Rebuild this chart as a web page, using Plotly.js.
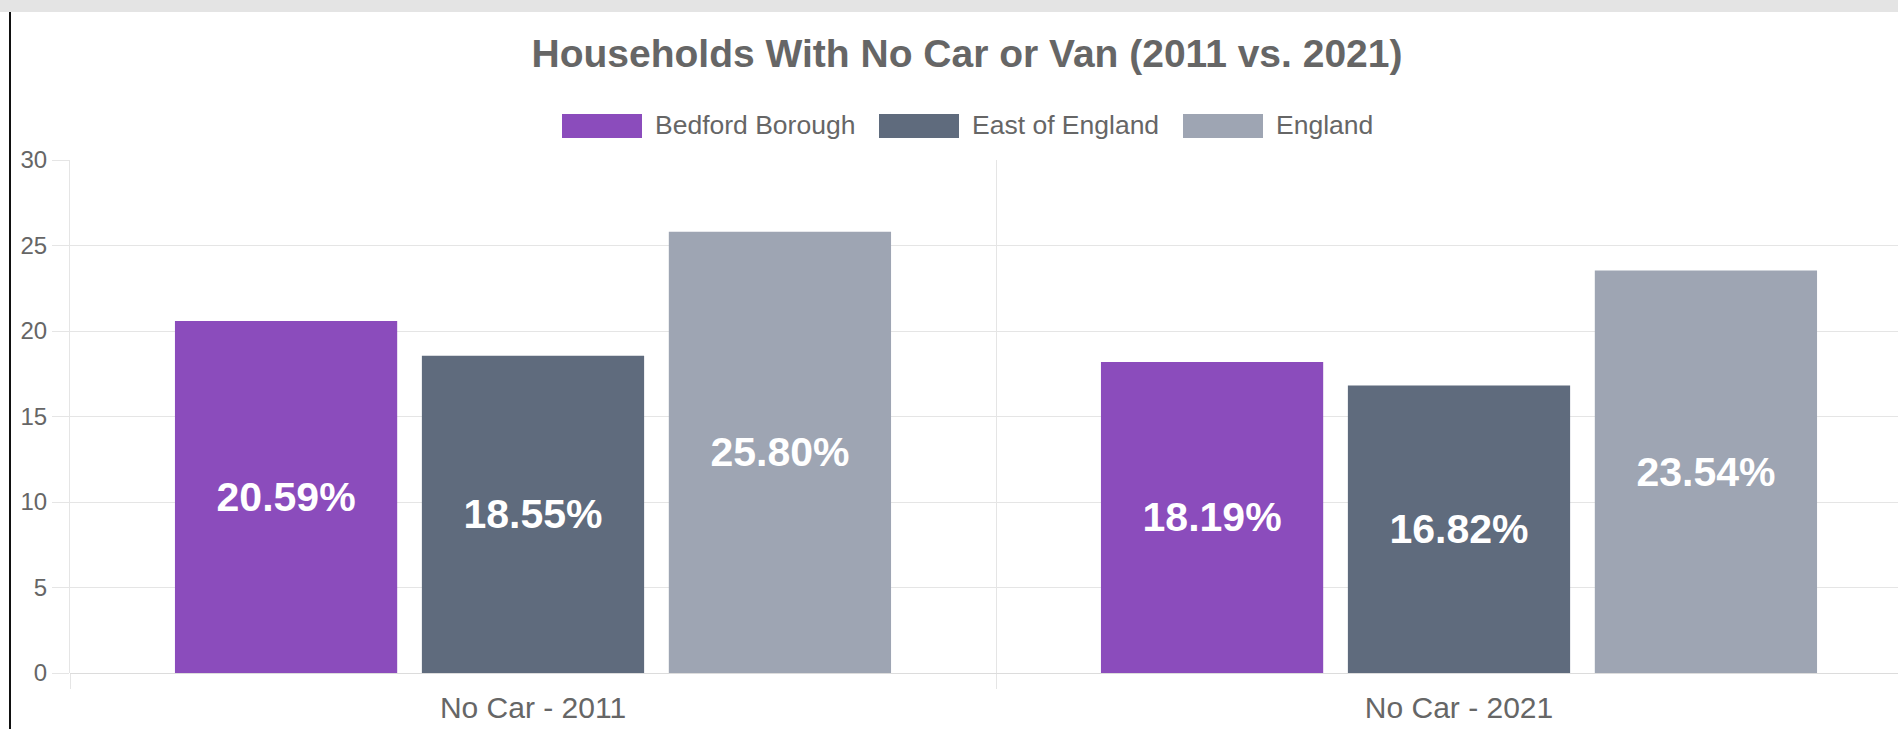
<!DOCTYPE html>
<html>
<head>
<meta charset="utf-8">
<script src="https://cdn.plot.ly/plotly-3.0.1.min.js"></script>
<style>
  html, body { margin: 0; padding: 0; overflow: hidden; background: #fff; width: 1898px; height: 729px; }
  #chart { position: absolute; left: 0; top: 0; }
  #band { position: absolute; left: 0; top: 0; width: 1898px; height: 12px; background: #e4e4e4; z-index: 5; }
  #edge { position: absolute; left: 9px; top: 12px; width: 2px; height: 717px; background: #111; z-index: 5; }
</style>
</head>
<body>
<div id="chart"></div>
<div id="band"></div>
<div id="edge"></div>
<script>
// ---- data ----
const categories = ["No Car - 2011", "No Car - 2021"];
const seriesNames = ["Bedford Borough", "East of England", "England"];
const bedford = [20.59, 18.19];
const eastOfEngland = [18.55, 16.82];
const england = [25.80, 23.54];
const seriesColors = ["#8b4cbc", "#5f6b7d", "#9ea5b3"];
const titleText = "Households With No Car or Van (2011 vs. 2021)";

// ---- layout geometry (pixels) ----
const W = 1935, H = 729;
const plotL = 70, plotR = 1922, plotT = 160, plotB = 673;
const pw = plotR - plotL, ph = plotB - plotT;
const px2x = p => (p - plotL) / pw;
const py2y = p => (plotB - p) / ph;

const FONT = "Liberation Sans, Arial, Helvetica, sans-serif";
const GREY = "#666666";
const GRID = "#e5e5e5";

const values = [bedford, eastOfEngland, england];
const traces = values.map((v, i) => ({
  type: "bar",
  name: seriesNames[i],
  x: categories,
  y: v,
  marker: { color: seriesColors[i], line: { width: 0 } },
  texttemplate: "%{y:.2f}%",
  textposition: "inside",
  insidetextanchor: "middle",
  constraintext: "none",
  textangle: 0,
  textfont: { family: FONT, size: 41, color: "#ffffff", weight: "bold" },
  hoverinfo: "skip",
  showlegend: false
}));

// custom legend (large swatches like the original)
const legendX = [562, 879, 1183];
const legendY = 126;
const shapes = [];
const annotations = [];
seriesNames.forEach((n, i) => {
  shapes.push({
    type: "rect", xref: "paper", yref: "paper",
    x0: px2x(legendX[i]), x1: px2x(legendX[i] + 80),
    y0: py2y(legendY + 12), y1: py2y(legendY - 12),
    fillcolor: seriesColors[i], line: { width: 0 }
  });
  annotations.push({
    xref: "paper", yref: "paper",
    x: px2x(legendX[i] + 91), y: py2y(legendY - 1),
    xanchor: "left", yanchor: "middle",
    text: n, showarrow: false,
    font: { family: FONT, size: 26.5, color: GREY }
  });
});

const layout = {
  width: W, height: H,
  margin: { l: plotL, r: W - plotR, t: plotT, b: H - plotB, pad: 0 },
  paper_bgcolor: "#ffffff",
  plot_bgcolor: "#ffffff",
  font: { family: FONT, color: GREY },
  title: {
    text: titleText,
    xref: "container", yref: "container",
    x: 967 / W, xanchor: "center",
    y: 1 - 53 / H, yanchor: "middle",
    font: { family: FONT, size: 39, color: GREY, weight: "bold" }
  },
  barmode: "group",
  bargap: 0.2,
  bargroupgap: 0.1,
  showlegend: false,
  xaxis: {
    type: "category",
    tickson: "boundaries",
    showgrid: true, gridcolor: GRID, gridwidth: 1,
    ticks: "outside", ticklen: 15, tickcolor: GRID, tickwidth: 1,
    showline: false,
    tickfont: { family: FONT, size: 30, color: GREY },
    ticklabelstandoff: 14,
    fixedrange: true
  },
  yaxis: {
    range: [0, 30],
    dtick: 5, tick0: 0,
    showgrid: true, gridcolor: GRID, gridwidth: 1,
    zeroline: true, zerolinecolor: "#dcdcdc", zerolinewidth: 1,
    showline: true, linecolor: GRID, linewidth: 1,
    ticks: "outside", ticklen: 17, tickcolor: GRID, tickwidth: 1,
    tickfont: { family: FONT, size: 24, color: GREY },
    fixedrange: true
  },
  shapes: shapes,
  annotations: annotations
};

Plotly.newPlot("chart", traces, layout, { displayModeBar: false, staticPlot: true });
</script>
</body>
</html>
